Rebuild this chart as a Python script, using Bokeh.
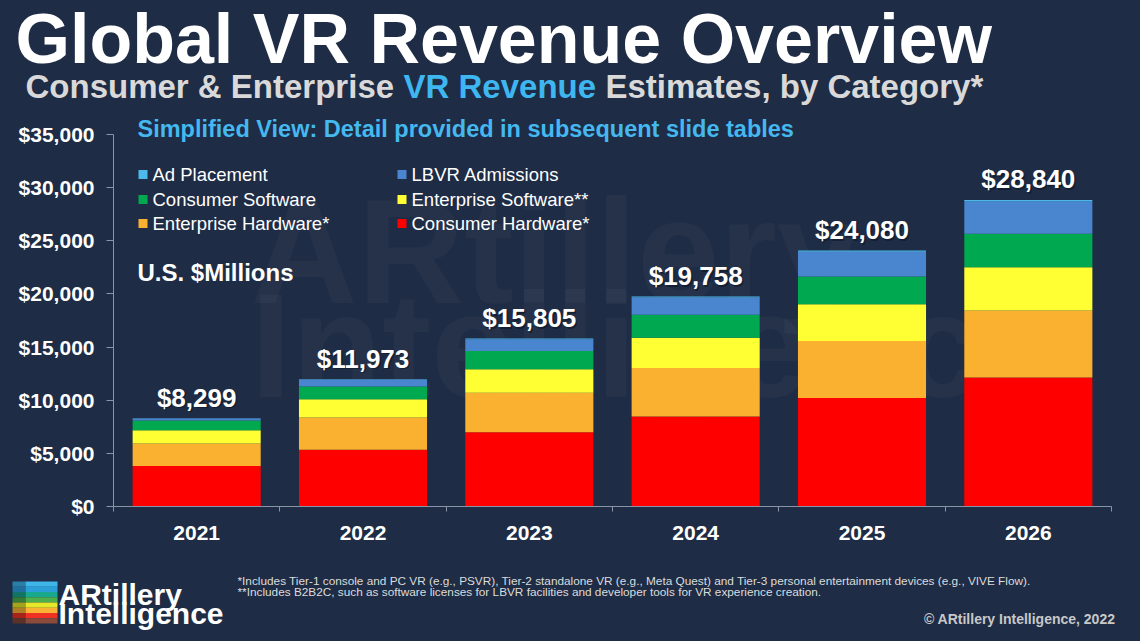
from bokeh.plotting import figure
from bokeh.layouts import column
from bokeh.models import (Range1d, LinearAxis, FixedTicker, NumeralTickFormatter,
                          Label, BoxAnnotation, ColumnDataSource)
from bokeh.core.properties import value
from bokeh.embed import file_html
from bokeh.resources import INLINE

# ---------------- data ----------------
years = ["2021", "2022", "2023", "2024", "2025", "2026"]
consumer_hardware = [3800, 5350, 6980, 8470, 10220, 12140]
enterprise_hardware = [2130, 3030, 3720, 4550, 5360, 6300]
enterprise_software = [1240, 1720, 2220, 2860, 3440, 4080]
consumer_software = [930, 1180, 1710, 2160, 2630, 3140]
lbvr_admissions = [170, 640, 1100, 1620, 2310, 3030]
ad_placement = [29, 53, 75, 98, 120, 150]
y_ticks = [0, 5000, 10000, 15000, 20000, 25000, 30000, 35000]

series_keys = ["consumer_hardware", "enterprise_hardware", "enterprise_software",
               "consumer_software", "lbvr_admissions", "ad_placement"]
series_names = ["Consumer Hardware*", "Enterprise Hardware*", "Enterprise Software**",
                "Consumer Software", "LBVR Admissions", "Ad Placement"]
series_colors = ["#fe0000", "#fbb130", "#ffff33", "#00a84f", "#4a86cf", "#4cb8ec"]

title_text = "Global VR Revenue Overview"
subtitle_parts = ["Consumer & Enterprise", "VR Revenue", "Estimates, by Category*"]
note_text = "Simplified View: Detail provided in subsequent slide tables"
units_text = "U.S. $Millions"
footnotes = [
    "*Includes Tier-1 console and PC VR (e.g., PSVR), Tier-2 standalone VR (e.g., Meta Quest) and Tier-3 personal entertainment devices (e.g., VIVE Flow).",
    "**Includes B2B2C, such as software licenses for LBVR facilities and developer tools for VR experience creation.",
]
copyright_text = "\u00a9 ARtillery Intelligence, 2022"
logo_lines = ["ARtillery", "Intelligence"]
logo_colors = ["#3fb6ea", "#2a9fd8", "#17a88e", "#4cae4c", "#e6e62a", "#f9b233", "#ee3124", "#8b4a3a"]
logo_dark = ["#2b7fa6", "#1f70a0", "#117566", "#357a35", "#a3a31d", "#b07f24", "#a8231a", "#5c3127"]

# ---------------- style / layout ----------------
BG = "#1e2c45"
AXIS = "#8b94a5"
FONT = "Liberation Sans"
W = 1140
TOP_H, MID_H, BOT_H = 110, 450, 81          # page bands (sum 641)
FRAME_L, FRAME_R, AXIS_Y, Y35 = 113, 1111, 506, 134   # chart frame in page pixels

series_values = [consumer_hardware, enterprise_hardware, enterprise_software,
                 consumer_software, lbvr_admissions, ad_placement]
totals = [sum(v) for v in zip(*series_values)]
total_labels = ["${:,}".format(t) for t in totals]
centers = [i + 0.5 for i in range(len(years))]

COMMON = dict(output_backend="svg", toolbar_location=None, title=None, frame_align=False,
              x_axis_location=None, y_axis_location=None,
              background_fill_color=BG, border_fill_color=BG, outline_line_color=None,
              styles={"background-color": BG})


def band(y0, h):
    f = figure(width=W, height=h, x_range=Range1d(0, W), y_range=Range1d(y0 + h, y0),
               min_border=0, **COMMON)
    f.grid.grid_line_color = None
    return f


def lab(f, x, y, text, size, color="white", style="bold", align="left",
        alpha=1.0, level="annotation", xr="default", yr="default"):
    # y is the vertical centre of the capitals, in page pixels
    f.add_layout(Label(x=x, y=y, x_range_name=xr, y_range_name=yr, text=text,
                       text_font_size=f"{size}px", text_color=color, text_font_style=style,
                       text_font=FONT, text_align=align, text_baseline="middle",
                       text_alpha=alpha, level=level))


def box(f, l, r, t, b, color, xr="default", yr="default"):
    f.add_layout(BoxAnnotation(left=l, right=r, top=t, bottom=b, x_range_name=xr, y_range_name=yr,
                               fill_color=color, fill_alpha=1.0, line_color=None))


# ---------------- top band: titles ----------------
top = band(0, TOP_H)
lab(top, 15, 38, title_text, 70)
sub_x = [25, 403, 605]
sub_colors = ["#d9d9d9", "#3eb6f0", "#d9d9d9"]
for sx, st, sc in zip(sub_x, subtitle_parts, sub_colors):
    lab(top, sx, 86, st, 33, color=sc)

# ---------------- middle band: chart ----------------
ytop_val = 35000 * (AXIS_Y - TOP_H) / (AXIS_Y - Y35)
p = figure(width=W, height=MID_H, x_range=Range1d(0, len(years)), y_range=Range1d(0, ytop_val),
           min_border_left=FRAME_L, min_border_right=W - FRAME_R, min_border_top=0,
           min_border_bottom=TOP_H + MID_H - AXIS_Y, **COMMON)
p.grid.grid_line_color = None
p.extra_x_ranges = {"px": Range1d(FRAME_L, FRAME_R)}
p.extra_y_ranges = {"py": Range1d(AXIS_Y, TOP_H)}

yaxis = LinearAxis(ticker=FixedTicker(ticks=y_ticks), formatter=NumeralTickFormatter(format="$0,0"),
                   bounds=(0, 35000),
                   axis_line_color=AXIS, major_tick_line_color=AXIS, major_tick_out=7, major_tick_in=0,
                   minor_tick_line_color=None, major_label_text_color="white",
                   major_label_text_font=FONT, major_label_text_font_style="bold",
                   major_label_text_font_size="21px", major_label_standoff=12)
p.add_layout(yaxis, "left")

xaxis = LinearAxis(ticker=FixedTicker(ticks=centers, minor_ticks=list(range(len(years) + 1))),
                   major_label_overrides={c: y for c, y in zip(centers, years)},
                   axis_line_color=AXIS, major_tick_line_color=None, major_tick_out=0, major_tick_in=0,
                   minor_tick_line_color=AXIS, minor_tick_out=5, minor_tick_in=0,
                   major_label_text_color="white", major_label_text_font=FONT,
                   major_label_text_font_style="bold", major_label_text_font_size="21px",
                   major_label_standoff=14)
p.add_layout(xaxis, "below")

# faint watermark
lab(p, 250, 251, logo_lines[0], 148, alpha=0.03, level="underlay", xr="px", yr="py")
lab(p, 250, 345, logo_lines[1], 148, alpha=0.03, level="underlay", xr="px", yr="py")

src = ColumnDataSource(dict(x=centers, **{k: v for k, v in zip(series_keys, series_values)}))
p.vbar_stack(series_keys, x="x", width=0.77, fill_color=series_colors, line_color=None, source=src)

tsrc = ColumnDataSource(dict(x=centers, total=totals, label=total_labels))
p.text(x="x", y="total", text="label", source=tsrc, text_align="center", text_baseline="middle",
       x_offset=1.5, y_offset=-19, text_color="#0b1322", text_alpha=0.55,
       text_font=value(FONT), text_font_style="bold", text_font_size="26px")
p.text(x="x", y="total", text="label", source=tsrc, text_align="center", text_baseline="middle",
       y_offset=-20.5, text_color="white", text_font=value(FONT), text_font_style="bold",
       text_font_size="26px")

lab(p, 137, 128.5, note_text, 23.5, color="#45b8f0", xr="px", yr="py")
lab(p, 137, 271.5, units_text, 24, xr="px", yr="py")

leg_order = list(range(len(series_names)))[::-1]
col_sq = [138, 397]
row_cy = [174, 199, 223]
for i, si in enumerate(leg_order):
    r, c = divmod(i, 2)
    box(p, col_sq[c], col_sq[c] + 9, row_cy[r] - 4.5, row_cy[r] + 4.5, series_colors[si], xr="px", yr="py")
    lab(p, col_sq[c] + 14, row_cy[r] - 0.5, series_names[si], 18.5, style="normal", xr="px", yr="py")

# ---------------- bottom band: footnotes, logo ----------------
bot = band(TOP_H + MID_H, BOT_H)
lab(bot, 237, 580.5, footnotes[0], 11.8, color="#dcdcdc", style="normal")
lab(bot, 237, 591.5, footnotes[1], 11.8, color="#dcdcdc", style="normal")
lab(bot, 1115, 618, copyright_text, 14, color="#c8c8c8", align="right")
stripe_h = 42.0 / len(logo_colors)
for i, (cl, cd) in enumerate(zip(logo_colors, logo_dark)):
    t = 581 + i * stripe_h
    box(bot, 12, 25, t, t + stripe_h, cd)
    box(bot, 25, 57, t, t + stripe_h, cl)
lab(bot, 58, 594, logo_lines[0], 30)
lab(bot, 58, 612.5, logo_lines[1], 30)

page = column(top, p, bot, spacing=0, styles={"background-color": BG})
html = file_html(page, INLINE)
html = html.replace("<body>", '<body style="margin:0;overflow:hidden;background-color:%s;">' % BG, 1)
open("out.html", "w").write(html)
